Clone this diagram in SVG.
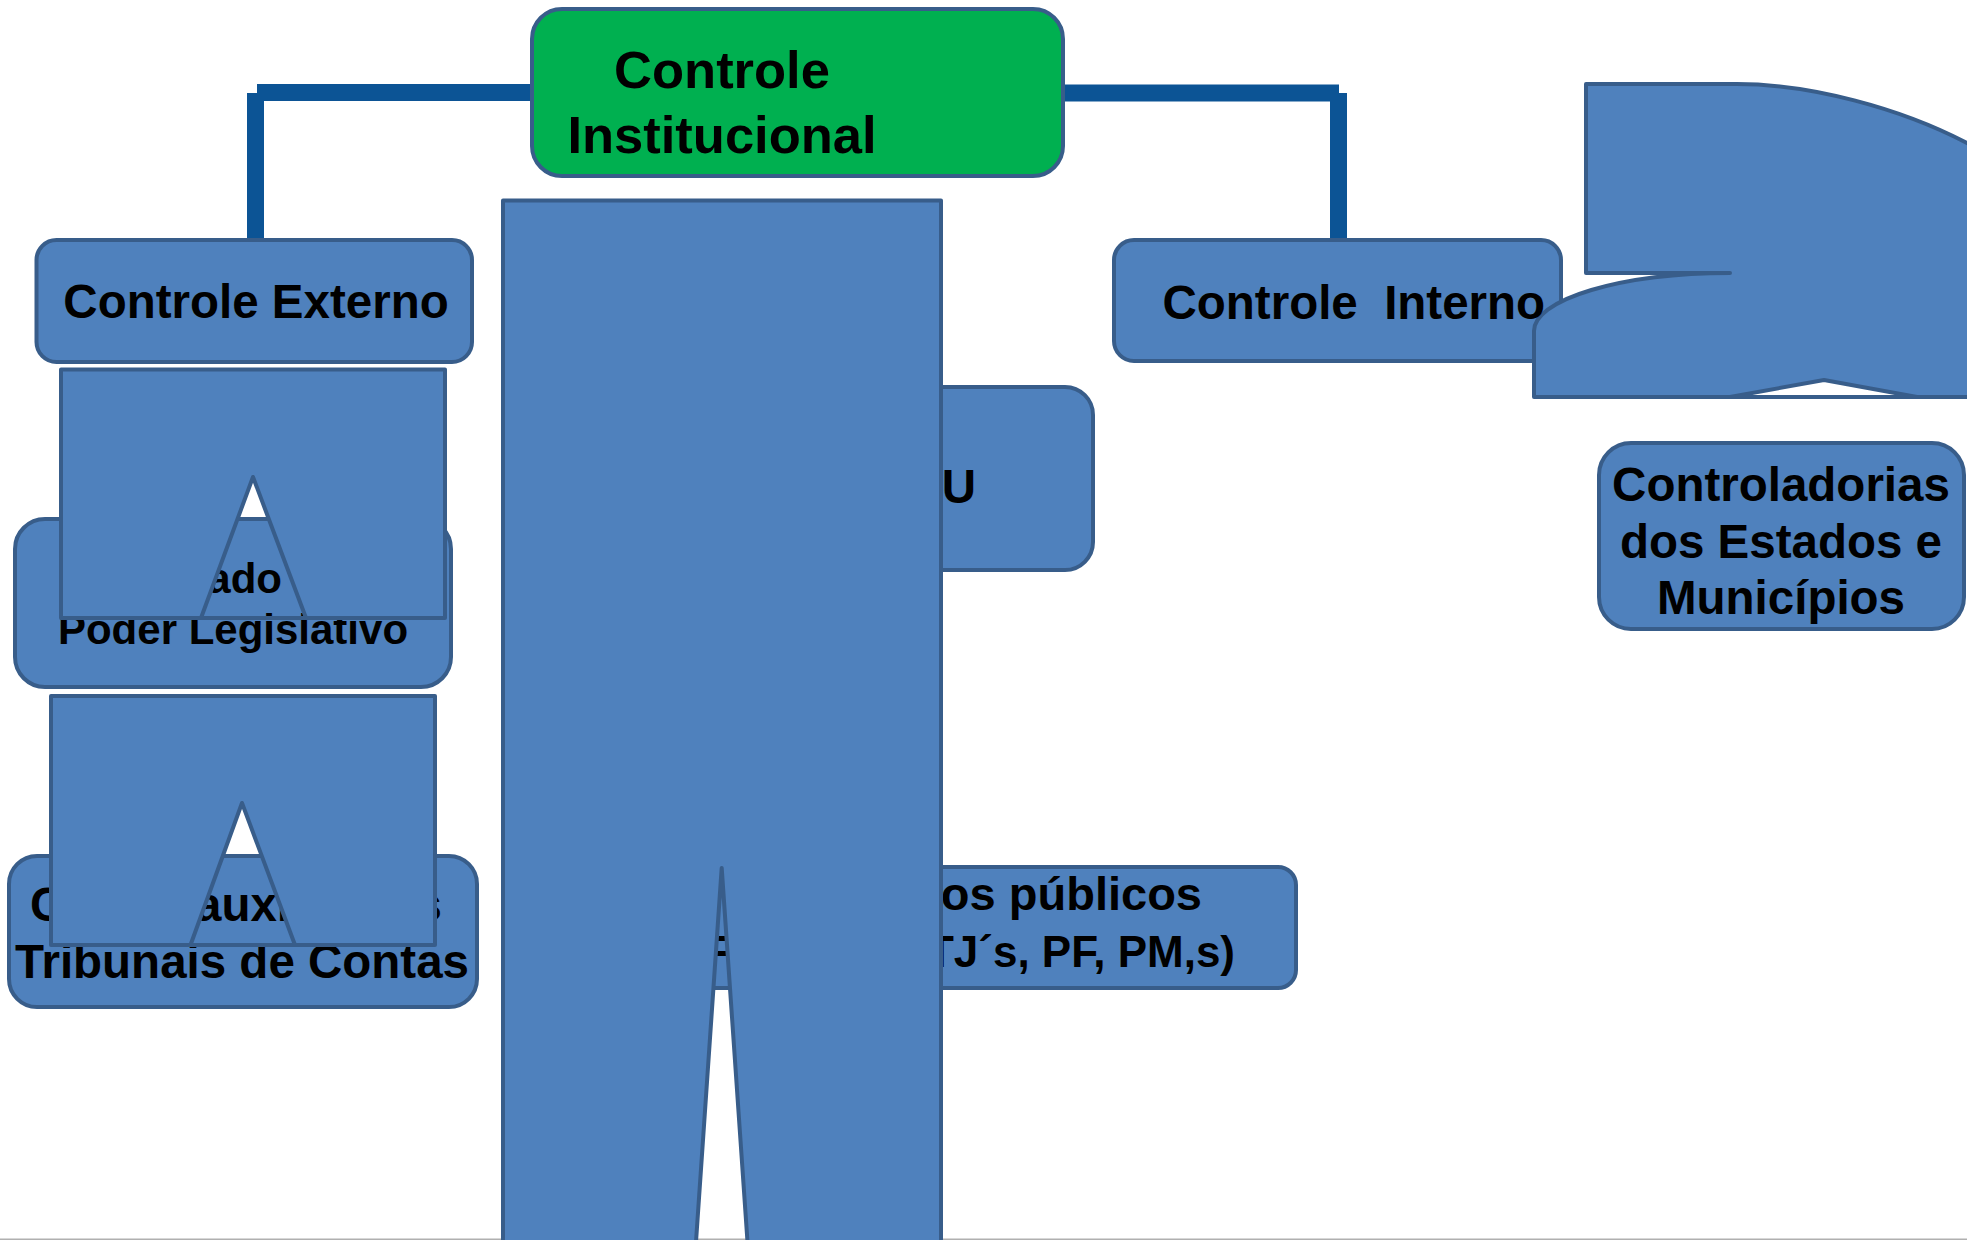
<svg xmlns="http://www.w3.org/2000/svg" width="1967" height="1240" viewBox="0 0 1967 1240">
<style>
.box{fill:#4f81bd;stroke:#385d8a;stroke-width:4}
.green{fill:#00b050;stroke:#385d8a;stroke-width:4}
.shape{fill:#4f81bd;stroke:#385d8a;stroke-width:4;fill-rule:evenodd;stroke-linejoin:round}
.conn{fill:none;stroke:#0c5495;stroke-width:17}
text{font-family:"Liberation Sans",Arial,sans-serif;font-weight:bold;fill:#000}
.t{font-size:47.5px}
.c{text-anchor:middle}
</style>
<rect x="0" y="1238.5" width="1967" height="1.5" fill="#b0b0b0"/>
<g id="connectors">
<path class="conn" d="M257 92.5 H534"/>
<path class="conn" d="M255.5 93 V241"/>
<path class="conn" d="M1061 93 H1339"/>
<path class="conn" d="M1338.5 93 V241"/>
</g>
<g id="controle-institucional">
<rect class="green" x="532" y="9" width="531" height="167" rx="30"/>
<text class="c" x="722" y="88" style="font-size:52.5px">Controle</text>
<text class="c" x="722" y="153" style="font-size:52.5px">Institucional</text>
</g>
<g id="controle-externo">
<rect class="box" x="36.5" y="240" width="435.5" height="122" rx="20"/>
<text class="t c" x="256" y="318">Controle Externo</text>
</g>
<g id="poder-legislativo">
<rect class="box" x="15" y="519" width="436" height="168" rx="30"/>
<text x="282" y="593" style="font-size:42px;text-anchor:end">ado</text>
<text class="c" x="233" y="644" style="font-size:42px">Poder Legislativo</text>
</g>
<g id="shape-a">
<path class="shape" d="M61 369.5 H445 V618 H61 Z M201 618 L253 477 L306 618 Z"/>
</g>
<g id="tribunais">
<rect class="box" x="9" y="856" width="468" height="151" rx="28"/>
<text class="t" x="30" y="921">C</text>
<text class="t" x="195" y="921">auxi</text>
<text class="t" x="442" y="921" style="text-anchor:end">s</text>
<text class="t c" x="242" y="978">Tribunais de Contas</text>
</g>
<g id="shape-b">
<path class="shape" d="M51 696 H435 V945 H51 Z M190.5 945 L242 803 L295 945 Z"/>
</g>
<g id="cgu">
<rect class="box" x="750" y="387" width="343" height="183" rx="28"/>
<text class="t" x="976" y="503" style="text-anchor:end">U</text>
</g>
<g id="orgaos-publicos">
<rect class="box" x="600" y="867" width="696" height="121" rx="18"/>
<text x="1202" y="910" style="font-size:47px;text-anchor:end">os públicos</text>
<text x="703" y="967" style="font-size:44px">F</text>
<text x="1235" y="967" style="font-size:44px;text-anchor:end">(TJ´s, PF, PM,s)</text>
</g>
<g id="shape-central">
<path class="shape" d="M503 200.5 H941 V1300 H503 Z M692 1300 L721.7 868 L751.5 1300 Z"/>
</g>
<g id="controle-interno">
<rect class="box" x="1114" y="240" width="447" height="121" rx="20"/>
</g>
<g id="shape-uturn">
<path class="shape" d="M1586 273 V84 H1737 C1810 84 1900 108 1967 143 L2010 170 V397 H1534 V331 A196 58 0 0 1 1730 273 Z M1730 397 L1824 380 L1917 397 Z"/>
</g>
<g id="controle-interno-label">
<text class="t" x="1162.5" y="319" xml:space="preserve">Controle  Interno</text>
</g>
<g id="controladorias">
<rect class="box" x="1599" y="443" width="365" height="186" rx="32"/>
<text class="t c" x="1781" y="501">Controladorias</text>
<text class="t c" x="1781" y="558">dos Estados e</text>
<text class="t c" x="1781" y="614">Municípios</text>
</g>
</svg>
